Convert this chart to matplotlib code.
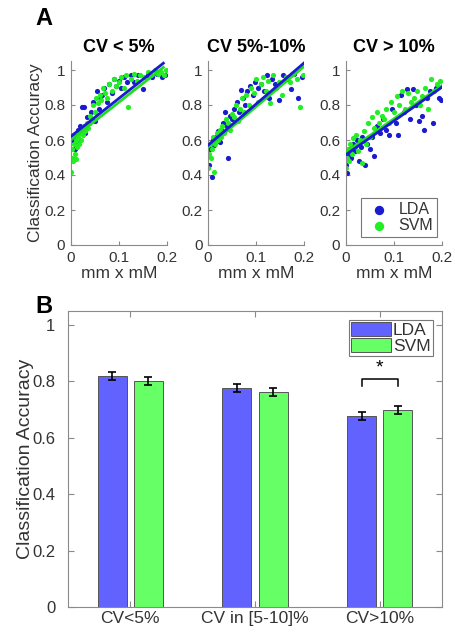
import matplotlib
matplotlib.use("Agg")
import matplotlib.pyplot as plt
import numpy as np

plt.rcParams['font.family'] = ['Liberation Sans', 'DejaVu Sans']

# ---------------- Data ----------------
panel_titles = ["CV < 5%", "CV 5%-10%", "CV > 10%"]

p1_lda_x = [0.002,0.004,0.006,0.008,0.010,0.012,0.015,0.018,0.020,0.024,0.027,0.030,0.034,0.038,0.042,0.046,0.050,0.054,0.058,0.062,0.066,0.070,0.075,0.080,0.085,0.090,0.095,0.100,0.105,0.110,0.118,0.125,0.132,0.140,0.150,0.160,0.170,0.180,0.190,0.196]
p1_lda_y = [0.60,0.49,0.63,0.55,0.57,0.62,0.66,0.60,0.68,0.79,0.79,0.64,0.73,0.70,0.76,0.82,0.71,0.88,0.78,0.84,0.86,0.90,0.82,0.92,0.87,0.95,0.91,0.94,0.90,0.96,0.93,0.97,0.93,0.97,0.89,0.97,0.96,0.98,0.96,0.97]
p1_svm_x = [0.000,0.002,0.003,0.005,0.006,0.008,0.010,0.011,0.013,0.015,0.017,0.019,0.021,0.023,0.025,0.028,0.030,0.033,0.036,0.040,0.043,0.046,0.050,0.053,0.056,0.060,0.064,0.068,0.072,0.076,0.080,0.085,0.090,0.095,0.100,0.105,0.110,0.115,0.120,0.126,0.132,0.138,0.145,0.152,0.160,0.168,0.175,0.182,0.188,0.194,0.198]
p1_svm_y = [0.42,0.50,0.55,0.48,0.58,0.52,0.60,0.49,0.56,0.62,0.58,0.64,0.60,0.66,0.63,0.68,0.65,0.70,0.67,0.74,0.72,0.80,0.76,0.84,0.81,0.86,0.83,0.90,0.87,0.84,0.92,0.88,0.95,0.91,0.93,0.96,0.90,0.97,0.79,0.95,0.98,0.94,0.97,0.96,0.99,0.97,1.00,0.98,0.99,0.97,1.00]

p2_lda_x = [0.001,0.003,0.005,0.008,0.010,0.013,0.016,0.020,0.024,0.028,0.032,0.036,0.040,0.042,0.046,0.050,0.055,0.060,0.064,0.068,0.072,0.077,0.082,0.088,0.093,0.098,0.104,0.110,0.116,0.122,0.128,0.134,0.140,0.148,0.156,0.164,0.172,0.180,0.188,0.195]
p2_lda_y = [0.51,0.46,0.55,0.39,0.60,0.57,0.62,0.65,0.59,0.66,0.70,0.76,0.68,0.50,0.74,0.72,0.78,0.82,0.76,0.885,0.84,0.80,0.88,0.91,0.86,0.93,0.90,0.92,0.88,0.97,0.84,0.95,0.92,0.83,0.97,0.95,0.89,0.98,0.84,0.96]
p2_svm_x = [0.000,0.002,0.004,0.006,0.008,0.010,0.012,0.015,0.018,0.021,0.024,0.027,0.030,0.034,0.038,0.042,0.046,0.050,0.054,0.058,0.062,0.066,0.070,0.075,0.080,0.085,0.090,0.095,0.100,0.105,0.110,0.115,0.120,0.125,0.130,0.136,0.142,0.148,0.155,0.162,0.170,0.178,0.185,0.192,0.198]
p2_svm_y = [0.44,0.52,0.58,0.50,0.55,0.62,0.42,0.58,0.64,0.60,0.66,0.62,0.68,0.64,0.72,0.70,0.66,0.75,0.73,0.80,0.71,0.78,0.84,0.76,0.86,0.80,0.90,0.87,0.95,0.82,0.92,0.96,0.88,0.94,0.81,0.97,0.90,0.93,0.86,0.96,0.93,0.98,0.95,0.79,0.97]

p3_lda_x = [0.001,0.003,0.006,0.009,0.012,0.015,0.019,0.023,0.027,0.031,0.035,0.040,0.045,0.050,0.055,0.060,0.066,0.072,0.078,0.084,0.090,0.097,0.104,0.110,0.116,0.122,0.128,0.134,0.140,0.146,0.152,0.158,0.164,0.170,0.176,0.182,0.188,0.194,0.198]
p3_lda_y = [0.46,0.41,0.52,0.55,0.50,0.58,0.54,0.60,0.48,0.56,0.62,0.46,0.58,0.55,0.62,0.51,0.68,0.64,0.72,0.66,0.63,0.78,0.70,0.63,0.86,0.76,0.89,0.72,0.89,0.80,0.71,0.74,0.66,0.84,0.88,0.70,0.90,0.84,0.83]
p3_svm_x = [0.000,0.002,0.004,0.007,0.010,0.013,0.016,0.019,0.022,0.026,0.030,0.034,0.038,0.042,0.046,0.050,0.055,0.060,0.065,0.070,0.075,0.080,0.085,0.090,0.095,0.100,0.106,0.112,0.118,0.124,0.130,0.136,0.142,0.148,0.154,0.160,0.166,0.172,0.178,0.184,0.190,0.196]
p3_svm_y = [0.44,0.50,0.55,0.48,0.58,0.52,0.61,0.56,0.63,0.54,0.60,0.47,0.65,0.58,0.70,0.62,0.73,0.67,0.76,0.70,0.74,0.72,0.78,0.70,0.82,0.76,0.85,0.80,0.88,0.78,0.87,0.82,0.84,0.88,0.80,0.85,0.90,0.78,0.95,0.88,0.92,0.94]

# linear fits (intercept, slope)
fit_lda = [(0.62, 2.17), (0.57, 2.35), (0.515, 1.93)]
fit_svm = [(0.60, 2.15), (0.56, 2.30), (0.53, 1.90)]
fit_xmax = [0.193, 0.2, 0.2]

bar_categories = ["CV<5%", "CV in [5-10]%", "CV>10%"]
bar_lda = [0.820, 0.776, 0.678]
bar_svm = [0.802, 0.762, 0.698]
err_lda = [0.015, 0.015, 0.014]
err_svm = [0.015, 0.015, 0.014]

# ---------------- Style ----------------
TXT = '#333333'
SPN = '#8a8a8a'
DOT_LDA = '#1a1ad0'
DOT_SVM = '#22ee22'
BAR_LDA = '#6262ff'
BAR_SVM = '#66ff66'

fig = plt.figure(figsize=(4.56, 6.33), dpi=100)

scat = [(p1_lda_x, p1_lda_y, p1_svm_x, p1_svm_y),
        (p2_lda_x, p2_lda_y, p2_svm_x, p2_svm_y),
        (p3_lda_x, p3_lda_y, p3_svm_x, p3_svm_y)]
lefts = [70.7/456, 208/456, 345.7/456]
axA = []
for i in range(3):
    ax = fig.add_axes([lefts[i], 1-245/633, 96/456, 183.75/633])
    lx, ly, sx, sy = scat[i]
    ax.scatter(lx, ly, s=14, color=DOT_LDA, linewidths=0, label='LDA', zorder=2)
    ax.scatter(sx, sy, s=14, color=DOT_SVM, linewidths=0, label='SVM', zorder=2)
    xx = np.array([0, fit_xmax[i]])
    ax.plot(xx, fit_svm[i][0] + fit_svm[i][1]*xx, color='#22dd22', lw=2, zorder=3)
    ax.plot(xx, fit_lda[i][0] + fit_lda[i][1]*xx, color='#1a1ad0', lw=2, zorder=4)
    ax.set_xlim(0, 0.2)
    ax.set_ylim(0, 1.05)
    ax.set_xticks([0, 0.1, 0.2])
    ax.set_xticklabels(['0', '0.1', '0.2'])
    ax.set_yticks([0, 0.2, 0.4, 0.6, 0.8, 1.0])
    ax.set_yticklabels(['0', '0.2', '0.4', '0.6', '0.8', '1'])
    for s in ['top', 'right']:
        ax.spines[s].set_visible(False)
    for s in ['left', 'bottom']:
        ax.spines[s].set_color(SPN)
        ax.spines[s].set_linewidth(0.8)
    ax.tick_params(direction='in', length=3, color=SPN, labelsize=11,
                   labelcolor=TXT, pad=4)
    ax.set_xlabel('mm x mM', fontsize=12.5, color=TXT, labelpad=1)
    ax.set_title(panel_titles[i], fontsize=13, fontweight='bold', color='black', pad=7)
    axA.append(ax)

axA[0].set_ylabel('Classification Accuracy', fontsize=12.5, color=TXT, labelpad=1)
leg = axA[2].legend(loc='lower right', fontsize=11.5, frameon=True, fancybox=False,
                    edgecolor='#555555', handletextpad=0.3, borderpad=0.25,
                    labelspacing=0.05, markerscale=1.8, handlelength=1.8,
                    borderaxespad=0, bbox_to_anchor=(0.955, 0.045))
leg.get_frame().set_linewidth(0.8)
for t in leg.get_texts():
    t.set_color(TXT)

fig.text(0.077, 0.96, 'A', fontsize=17, fontweight='bold', color='black')

# ---------------- Panel B ----------------
axB = fig.add_axes([68/456, 1-607/633, 374/456, 296/633])
x = np.arange(1, len(bar_categories)+1)
w = 0.232
off = 0.145
axB.bar(x-off, bar_lda, w, color=BAR_LDA, edgecolor='#555555', linewidth=0.7,
        label='LDA', zorder=2)
axB.bar(x+off, bar_svm, w, color=BAR_SVM, edgecolor='#555555', linewidth=0.7,
        label='SVM', zorder=2)
axB.errorbar(x-off, bar_lda, yerr=err_lda, fmt='none', ecolor='black',
             elinewidth=1.2, capsize=3, capthick=1.2, zorder=3)
axB.errorbar(x+off, bar_svm, yerr=err_svm, fmt='none', ecolor='black',
             elinewidth=1.2, capsize=3, capthick=1.2, zorder=3)
# significance bracket on the third group
bx0, bx1 = x[2]-off, x[2]+off
axB.plot([bx0, bx0, bx1, bx1], [0.785, 0.81, 0.81, 0.785], color='black', lw=1.1, zorder=6)
axB.text(x[2], 0.818, '*', ha='center', va='bottom', fontsize=14, color='black', zorder=7)

axB.set_xlim(0.5, 3.5)
axB.set_ylim(0, 1.05)
axB.set_xticks(x)
axB.set_xticklabels(bar_categories)
axB.set_yticks([0, 0.2, 0.4, 0.6, 0.8, 1.0])
axB.set_yticklabels(['0', '0.2', '0.4', '0.6', '0.8', '1'])
for s in axB.spines.values():
    s.set_color(SPN)
    s.set_linewidth(0.8)
axB.tick_params(direction='in', length=4, color=SPN, labelsize=12.5,
                labelcolor=TXT, top=True, right=True, pad=3)
axB.tick_params(axis='y', labelsize=12, pad=9)
axB.set_ylabel('Classification Accuracy', fontsize=14, color=TXT, labelpad=-1)
legB = axB.legend(loc='upper right', fontsize=12.5, frameon=True, fancybox=False,
                  edgecolor='#555555', handletextpad=0.1, borderpad=0.12,
                  labelspacing=0.0, handlelength=2.3, handleheight=0.85,
                  borderaxespad=0, bbox_to_anchor=(0.975, 0.97))
legB.get_frame().set_linewidth(0.8)
for t in legB.get_texts():
    t.set_color(TXT)

fig.text(0.077, 0.505, 'B', fontsize=17, fontweight='bold', color='black')

fig.savefig('out.png', dpi=100)
